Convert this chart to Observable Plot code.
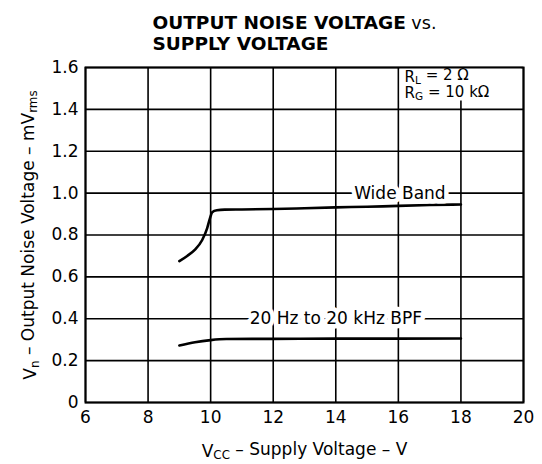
<!DOCTYPE html>
<html>
<head>
<meta charset="utf-8">
<script src="https://cdn.jsdelivr.net/npm/d3@7"></script>
<script src="https://cdn.jsdelivr.net/npm/@observablehq/plot@0.6"></script>
<style>
  html, body { margin: 0; padding: 0; background: white; }
  #chart { width: 542px; height: 464px; }
</style>
</head>
<body>
<div id="chart"></div>
<script>
// ---- data ----
const xTicks = [6, 8, 10, 12, 14, 16, 18, 20];
const yTicks = [0, 0.2, 0.4, 0.6, 0.8, 1.0, 1.2, 1.4, 1.6];
const yTickLabels = ["0", "0.2", "0.4", "0.6", "0.8", "1.0", "1.2", "1.4", "1.6"];

const wideBandX = [9.0, 9.25, 9.5, 9.73, 9.89, 9.98, 10.05, 10.2, 10.45, 11, 12, 13, 14, 15, 16, 17, 18];
const wideBandY = [0.675, 0.70, 0.73, 0.776, 0.833, 0.881, 0.909, 0.918, 0.921, 0.922, 0.924, 0.928, 0.932, 0.935, 0.939, 0.943, 0.946];

const bpfX = [9.0, 9.5, 10.0, 10.5, 12, 14, 16, 18];
const bpfY = [0.272, 0.288, 0.298, 0.303, 0.304, 0.305, 0.305, 0.306];

const curveLabels = ["Wide Band", "20 Hz to 20 kHz BPF"];
const curveLabelX = [16.05, 14.0];
const curveLabelY = [1.0, 0.4];

const legendLines = ["RL = 2 Ω", "RG = 10 kΩ"];
const legendY = [1.556, 1.478];
const legendX = 16.2;
const legendBox = {x1: 16.06, x2: 19.94, y1: 1.44, y2: 1.595};

const titleText = "OUTPUT NOISE VOLTAGE vs.\nSUPPLY VOLTAGE";
const xLabel = "VCC – Supply Voltage – V";
const yLabel = "Vn – Output Noise Voltage – mVrms";

// text pieces: [text, style] where style 1 = subscript, 2 = lighter/smaller
const subscriptParts = {
  "VCC – Supply Voltage – V": [["V", 0], ["CC", 1], [" – Supply Voltage – V", 0]],
  "Vn – Output Noise Voltage – mVrms": [["V", 0], ["n", 1], [" – Output Noise Voltage – mV", 0], ["rms", 1]],
  "RL = 2 Ω": [["R", 0], ["L", 1], [" = 2 Ω", 0]],
  "RG = 10 kΩ": [["R", 0], ["G", 1], [" = 10 kΩ", 0]],
  "OUTPUT NOISE VOLTAGE vs.": [["OUTPUT NOISE VOLTAGE", 0], [" vs.", 2]]
};

// ---- build tables ----
const wideBand = wideBandX.map((x, i) => ({x, y: wideBandY[i]}));
const bpf = bpfX.map((x, i) => ({x, y: bpfY[i]}));
const labels = curveLabels.map((t, i) => ({t, x: curveLabelX[i], y: curveLabelY[i]}));
const legend = legendLines.map((t, i) => ({t, y: legendY[i]}));

const font = "DejaVu Sans, sans-serif";

const chart = Plot.plot({
  width: 542,
  height: 464,
  marginTop: 67,
  marginBottom: 62,
  marginLeft: 85,
  marginRight: 19,
  style: {fontFamily: font, fontSize: "17px", color: "black", background: "white"},
  x: {domain: [6, 20]},
  y: {domain: [0, 1.6]},
  marks: [
    Plot.gridX(xTicks, {stroke: "black", strokeOpacity: 1, strokeWidth: 1.6}),
    Plot.gridY(yTicks, {stroke: "black", strokeOpacity: 1, strokeWidth: 1.6}),
    Plot.rect([legendBox], {x1: "x1", x2: "x2", y1: "y1", y2: "y2", fill: "white"}),
    Plot.line(wideBand, {x: "x", y: "y", stroke: "black", strokeWidth: 2.6, curve: "monotone-x"}),
    Plot.line(bpf, {x: "x", y: "y", stroke: "black", strokeWidth: 2.6, curve: "monotone-x"}),
    Plot.text(labels, {x: "x", y: "y", text: "t", fill: "black", stroke: "white", strokeWidth: 9,
      fontSize: 17, style: "letter-spacing:1.4px"}),
    Plot.text(legend, {x: () => legendX, y: "y", text: "t", textAnchor: "start", fill: "black", fontSize: 15,
      style: "letter-spacing:1.2px"}),
    Plot.frame({stroke: "black", strokeWidth: 2}),
    Plot.axisX({ticks: xTicks, tickSize: 0, tickPadding: 8, fontSize: 17,
      label: xLabel, labelAnchor: "center", labelOffset: 54, labelArrow: false}),
    Plot.axisY({ticks: yTicks, tickFormat: (d) => yTickLabels[yTicks.indexOf(d)], tickSize: 0, tickPadding: 7, fontSize: 17,
      label: yLabel, labelAnchor: "center", labelOffset: 62, labelArrow: false}),
    Plot.text([titleText], {frameAnchor: "top-left", dx: 67, dy: -54, textAnchor: "start", lineAnchor: "top",
      lineHeight: 1.15, fontSize: 18.5, fontWeight: "bold"})
  ]
});

// rebuild texts that need subscripts as tspans
d3.select(chart).selectAll("text, tspan").each(function() {
  const parts = subscriptParts[this.textContent];
  if (!parts) return;
  const el = d3.select(this);
  el.text(null);
  let prevSub = false;
  for (const [s, kind] of parts) {
    const ts = el.append("tspan").text(s);
    const sub = kind === 1;
    if (kind === 2) ts.attr("font-weight", "normal").attr("font-size", "95%");
    if (sub && !prevSub) ts.attr("dy", "0.25em").attr("font-size", "70%");
    else if (sub) ts.attr("font-size", "70%");
    else if (prevSub) ts.attr("dy", "-0.25em");
    prevSub = sub;
  }
});

document.getElementById("chart").appendChild(chart);
</script>
</body>
</html>
